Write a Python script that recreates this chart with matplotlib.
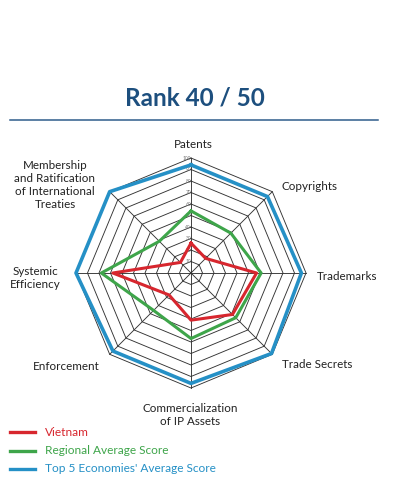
import matplotlib.pyplot as plt
import numpy as np

categories = ['Patents', 'Copyrights', 'Trademarks', 'Trade Secrets',
              'Commercialization\nof IP Assets', 'Enforcement',
              'Systemic\nEfficiency',
              'Membership\nand Ratification\nof International\nTreaties']
vietnam = [26, 18, 57, 51, 41, 27, 68, 13]
regional = [54, 49, 61, 55, 57, 46, 78, 39]
top5 = [94, 94, 96, 99, 96, 96, 100, 100]
ring_levels = [10, 20, 30, 40, 50, 60, 70, 80, 90, 100]
series_names = ['Vietnam', 'Regional Average Score', "Top 5 Economies' Average Score"]

RED = '#d7262e'
GREEN = '#3ea54a'
BLUE = '#2590c6'
NAVY = '#1d4f7e'

plt.rcParams['font.family'] = ['Lato', 'DejaVu Sans']

fig = plt.figure(figsize=(3.97, 5.0), dpi=100)

# title and rule
fig.text(0.49, 1 - 98 / 500, 'Rank 40 / 50', ha='center', va='center',
         fontsize=17.5, fontweight='bold', color=NAVY)
fig.add_artist(plt.Line2D([10 / 397, 378 / 397], [1 - 120 / 500] * 2,
                          color='#2f5d8c', lw=1.1))

cx, cy, rad = 191 / 397, 1 - 273 / 500, 115
ax = fig.add_axes([cx - rad / 397, cy - rad / 500, 2 * rad / 397, 2 * rad / 500],
                  projection='polar')
ax.set_theta_zero_location('N')
ax.set_theta_direction(-1)
ax.set_ylim(0, 100)
ax.grid(False)
ax.spines['polar'].set_visible(False)
ax.set_xticks([])
ax.set_yticks([])
ax.patch.set_alpha(0)

n = len(categories)
theta = np.arange(n) * 2 * np.pi / n
theta_c = np.append(theta, theta[0])

for lv in ring_levels:
    ax.plot(theta_c, [lv] * (n + 1), color='#333333', lw=0.65, zorder=1, clip_on=False)
for t in theta:
    ax.plot([t, t], [0, 100], color='#333333', lw=0.65, zorder=1, clip_on=False)
for lv in ring_levels:
    ax.text(0, lv, str(lv), fontsize=3.5, color='#777777', ha='right', va='center',
            zorder=2)

for vals, col, lw in [(top5, BLUE, 2.6), (regional, GREEN, 2.2), (vietnam, RED, 2.2)]:
    v = list(vals) + [vals[0]]
    ax.plot(theta_c, v, color=col, lw=lw, zorder=3, clip_on=False)

# category labels
label_pos = [(193, 145, 'center'), (281, 186, 'left'), (317, 277, 'left'),
             (282, 365, 'left'), (190, 415, 'center'), (100, 367, 'right'),
             (35, 278, 'center'), (55, 185, 'center')]
for name, (x, y, ha) in zip(categories, label_pos):
    fig.text(x / 397, 1 - y / 500, name, ha=ha, va='center', fontsize=8.4,
             color='#222222', linespacing=1.25)

# legend
cols = [RED, GREEN, BLUE]
for i, (name, col) in enumerate(zip(series_names, cols)):
    y = 1 - (432 + i * 18.5) / 500
    fig.add_artist(plt.Line2D([10 / 397, 35 / 397], [y, y], color=col, lw=2.4))
    fig.text(45 / 397, y, name, ha='left', va='center', fontsize=8.6, color=col)

fig.savefig('out.png', dpi=100)
